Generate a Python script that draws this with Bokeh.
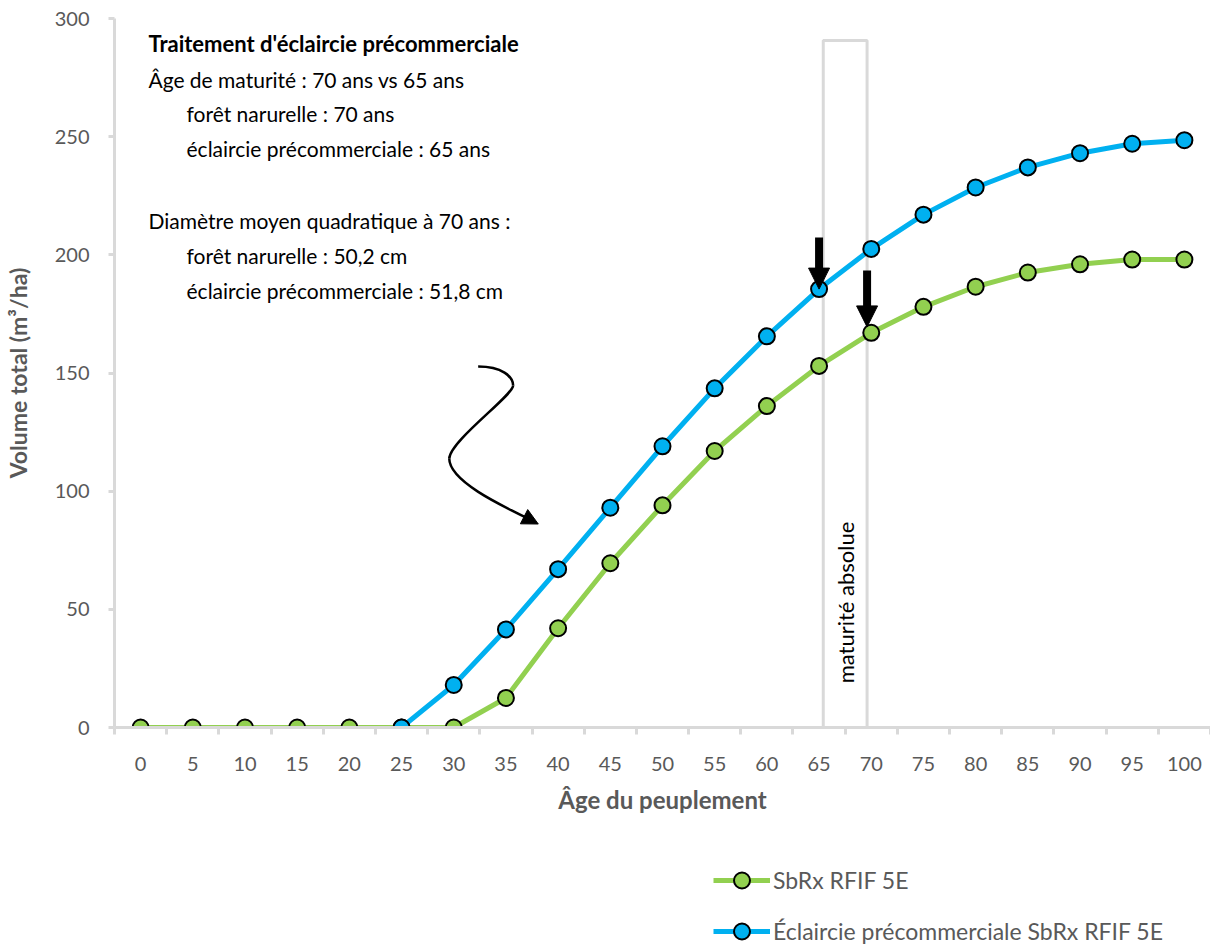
import math
from bokeh.plotting import figure
from bokeh.layouts import column
from bokeh.models import (Range1d, FixedTicker, Legend, LegendItem, Label, Arrow,
                          NormalHead, ColumnDataSource)
from bokeh.core.properties import value
from bokeh.embed import file_html
from bokeh.resources import INLINE

ages = [0, 5, 10, 15, 20, 25, 30, 35, 40, 45, 50, 55, 60, 65, 70, 75, 80, 85, 90, 95, 100]
natural = [0, 0, 0, 0, 0, 0, 0, 12.5, 42, 69.5, 94, 117, 136, 153, 167, 178, 186.5, 192.5, 196, 198, 198]
thinned = [None, None, None, None, None, 0, 18, 41.5, 67, 93, 119, 143.5, 165.5, 185.5, 202.5, 217, 228.5, 237, 243, 247, 248.5]
series_names = ["SbRx RFIF 5E", "Éclaircie précommerciale SbRx RFIF 5E"]
y_ticks = [0, 50, 100, 150, 200, 250, 300]

FONT = "Lato"
GREY_TXT = "#595959"
AXIS_C = "#d9d9d9"
GREEN = "#92d050"
BLUE = "#00b0f0"

p = figure(width=1210, height=834, output_backend="svg", toolbar_location=None,
           x_range=Range1d(-2.5, 102.5), y_range=Range1d(0, 300),
           min_border_left=114, min_border_right=0, min_border_top=18, min_border_bottom=107)
p.outline_line_color = None
p.grid.visible = False

# axes
xa = p.xaxis[0]
xa.ticker = FixedTicker(ticks=ages, minor_ticks=[a - 2.5 for a in ages] + [102.5])
xa.major_tick_out = 0
xa.major_tick_in = 0
xa.minor_tick_out = 7
xa.minor_tick_in = 0
xa.minor_tick_line_color = AXIS_C
xa.minor_tick_line_width = 3
xa.axis_line_color = AXIS_C
xa.axis_line_width = 3
xa.major_label_text_font = FONT
xa.major_label_text_font_size = "20px"
xa.major_label_text_color = GREY_TXT
xa.major_label_standoff = 22
xa.axis_label = "Âge du peuplement"
xa.axis_label_text_font = FONT
xa.axis_label_text_font_size = "24px"
xa.axis_label_text_font_style = "bold"
xa.axis_label_text_color = GREY_TXT
xa.axis_label_standoff = 11

ya = p.yaxis[0]
ya.ticker = FixedTicker(ticks=y_ticks)
ya.major_tick_out = 6
ya.major_tick_in = 0
ya.major_tick_line_color = AXIS_C
ya.major_tick_line_width = 3
ya.minor_tick_line_color = None
ya.axis_line_color = AXIS_C
ya.axis_line_width = 3
ya.major_label_text_font = FONT
ya.major_label_text_font_size = "20px"
ya.major_label_text_color = GREY_TXT
ya.major_label_standoff = 19
ya.axis_label = "Volume total (m³/ha)"
ya.axis_label_text_font = FONT
ya.axis_label_text_font_size = "23px"
ya.axis_label_text_font_style = "bold"
ya.axis_label_text_color = GREY_TXT
ya.axis_label_standoff = 20

# maturity box
p.quad(left=65.4, right=69.6, bottom=-1.5, top=290.7, fill_color=None,
       line_color=AXIS_C, line_width=3)
p.text(x=[67.5], y=[52.9], text=["maturité absolue"], angle=math.pi / 2,
       text_align="center", text_baseline="middle", text_font=value(FONT),
       text_font_size="22px", text_color="black")

# series
src_n = ColumnDataSource(dict(x=ages, y=natural))
thin_x = [a for a, v in zip(ages, thinned) if v is not None]
thin_y = [v for v in thinned if v is not None]
src_t = ColumnDataSource(dict(x=thin_x, y=thin_y))

p.line("x", "y", source=src_n, line_color=GREEN, line_width=5)
p.line("x", "y", source=src_t, line_color=BLUE, line_width=5)
p.scatter("x", "y", source=src_n, size=16, fill_color=GREEN, line_color="black", line_width=2)
p.scatter("x", "y", source=src_t, size=16, fill_color=BLUE, line_color="black", line_width=2)

# arrows
p.add_layout(Arrow(end=NormalHead(size=21, fill_color="black", line_color="black"),
                   x_start=65, y_start=207.3, x_end=65, y_end=185.5,
                   line_width=8, line_color="black"))
p.add_layout(Arrow(end=NormalHead(size=21, fill_color="black", line_color="black"),
                   x_start=69.6, y_start=193.4, x_end=69.6, y_end=169.5,
                   line_width=8, line_color="black"))

# curly arrow
p.bezier(x0=[32.34, 35.69, 29.57], y0=[152.75, 144.7, 113.8],
         x1=[35.69, 29.57, 37.6], y1=[144.7, 113.8, 87.4],
         cx0=[34.6, 35.69, 29.57], cy0=[152.75, 140.5, 104.5],
         cx1=[35.69, 29.67, 34.2], cy1=[148.5, 121.4, 94.6],
         line_color="black", line_width=2.5)
p.add_layout(Arrow(end=NormalHead(size=16, fill_color="black", line_color="black"),
                   x_start=37.0, y_start=88.6, x_end=38.1, y_end=86.1,
                   line_width=2.5, line_color="black"))

# annotation text
lines = [
    (0.75, 289.5, "Traitement d'éclaircie précommerciale", "bold", "22px"),
    (0.75, 274.3, "Âge de maturité : 70 ans vs 65 ans", "normal", "21px"),
    (4.4, 259.8, "forêt narurelle : 70 ans", "normal", "21px"),
    (4.4, 245.0, "éclaircie précommerciale : 65 ans", "normal", "21px"),
    (0.75, 214.5, "Diamètre moyen quadratique à 70 ans :", "normal", "21px"),
    (4.4, 199.7, "forêt narurelle : 50,2 cm", "normal", "21px"),
    (4.4, 184.9, "éclaircie précommerciale : 51,8 cm", "normal", "21px"),
]
for x, y, t, st, fs in lines:
    p.add_layout(Label(x=x, y=y, text=t, text_font=FONT, text_font_style=st,
                       text_font_size=fs, text_color="black", text_baseline="middle"))

# legend strip (separate figure below the chart)
q = figure(width=1210, height=117, output_backend="svg", toolbar_location=None,
           x_range=Range1d(1000, 1001), y_range=Range1d(1000, 1001),
           min_border_left=0, min_border_right=0, min_border_top=0, min_border_bottom=0)
q.axis.visible = False
q.grid.visible = False
q.outline_line_color = None
lq_n = q.line("x", "y", source=src_n, line_color=GREEN, line_width=5)
lq_t = q.line("x", "y", source=src_t, line_color=BLUE, line_width=5)
sq_n = q.scatter("x", "y", source=src_n, size=16, fill_color=GREEN, line_color="black", line_width=2)
sq_t = q.scatter("x", "y", source=src_t, size=16, fill_color=BLUE, line_color="black", line_width=2)

legend = Legend(items=[LegendItem(label=series_names[0], renderers=[lq_n, sq_n]),
                       LegendItem(label=series_names[1], renderers=[lq_t, sq_t])],
                location=(599, 0), orientation="vertical",
                glyph_width=57, glyph_height=40, label_standoff=3, spacing=11,
                padding=0, margin=0, border_line_color=None, background_fill_alpha=0,
                label_text_font=FONT, label_text_font_size="23px", label_text_color=GREY_TXT,
                label_height=26)
q.add_layout(legend, "center")

layout = column(p, q, spacing=0)
open("out.html", "w").write(file_html(layout, INLINE))
